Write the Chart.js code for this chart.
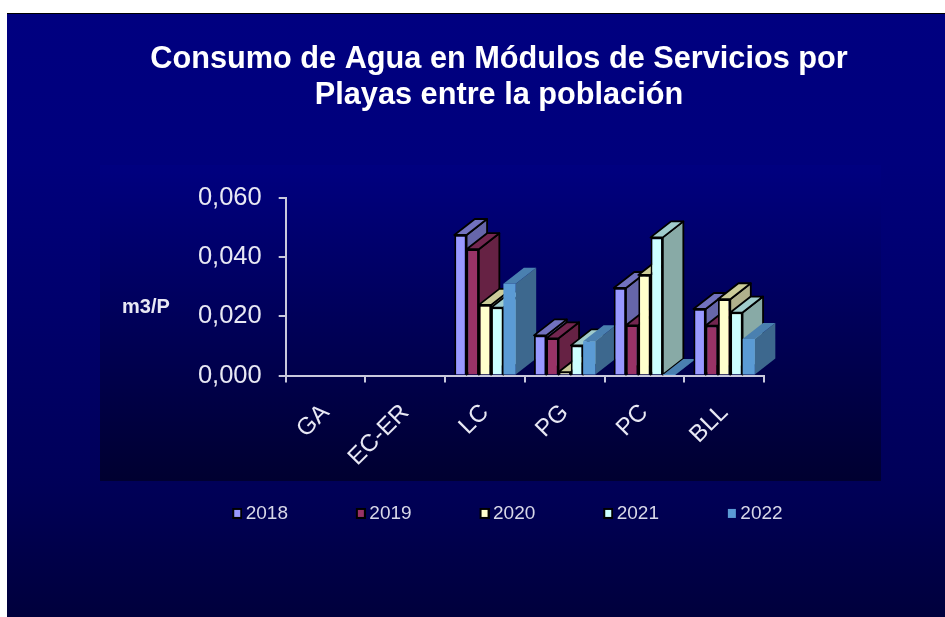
<!DOCTYPE html>
<html><head><meta charset="utf-8">
<style>html,body{margin:0;padding:0;background:#fff}#w{position:relative;width:945px;height:617px}</style>
<script src="https://cdn.jsdelivr.net/npm/chart.js@4"></script>
</head><body><div id="w"><canvas id="c" width="945" height="617"></canvas></div>
<script>
const categories = ['GA','EC-ER','LC','PG','PC','BLL'];
const s2018 = [null,null,0.0475,0.0136,0.0296,0.0225];
const s2019 = [null,null,0.0427,0.0126,0.0170,0.0169];
const s2020 = [null,null,0.0239,0.0012,0.0340,0.0258];
const s2021 = [null,null,0.0230,0.0102,0.0467,0.0213];
const s2022 = [null,null,0.0310,0.0116,0.0002,0.0124];
const yTicks = [0,0.02,0.04,0.06];
const titleLines = ['Consumo de Agua en Módulos de Servicios por','Playas entre la población'];
const yLabel = 'm3/P';
const names=['2018','2019','2020','2021','2022'];

const styles = [
 {front:'#9999FF',top:'#7272BF',side:'#6666AA',edge:'#000000'},
 {front:'#993366',top:'#732650',side:'#662244',edge:'#000000'},
 {front:'#FFFFCC',top:'#CCCC99',side:'#B0B08C',edge:'#000000'},
 {front:'#CCFFFF',top:'#A0CCCC',side:'#88AAA6',edge:'#000000'},
 {front:'#5B9BD5',top:'#4A80B0',side:'#3D688E',edge:null}
];
const DX = 20.5, DY = 16;

function marker(st){
 const m=document.createElement('canvas'); m.width=21; m.height=11;
 const c=m.getContext('2d');
 if(st.edge){c.fillStyle=st.edge; c.fillRect(11,0,10,11);}
 c.fillStyle=st.front; c.fillRect(13,2,6,7);
 if(!st.edge){c.fillRect(12,1,8,9);}
 return m;
}
const markers=styles.map(marker);

const depthPlugin = {
 id:'depth',
 beforeDraw(chart){
  const c = chart.ctx;
  c.save();
  c.fillStyle='#fff'; c.fillRect(0,0,945,617);
  let g=c.createLinearGradient(0,13,0,617);
  g.addColorStop(0,'#000080'); g.addColorStop(0.25,'#00007C'); g.addColorStop(0.78,'#000058'); g.addColorStop(1,'#00003C');
  c.fillStyle=g; c.fillRect(7,13,938,604);
  c.fillStyle='#000'; c.fillRect(7,13,938,1);
  g=c.createLinearGradient(0,165,0,481);
  g.addColorStop(0,'#000080'); g.addColorStop(1,'#000030');
  c.fillStyle=g; c.fillRect(100,165,781,316);
  c.restore();
 },
 beforeDatasetsDraw(chart){
  const c = chart.ctx, n = categories.length;
  c.save();
  c.lineJoin='round';
  for(let i=0;i<n;i++){
   chart.data.datasets.forEach((ds,d)=>{
    if(ds.data[i]==null) return;
    const b = chart.getDatasetMeta(d).data[i], st = styles[d];
    const l=b.x-b.width/2, r=b.x+b.width/2, t=b.y, bt=b.base;
    c.lineWidth = 1.8; c.strokeStyle = st.edge || 'transparent';
    c.beginPath(); c.moveTo(r,t); c.lineTo(r+DX,t-DY); c.lineTo(r+DX,bt-DY); c.lineTo(r,bt); c.closePath();
    c.fillStyle=st.side; c.fill(); if(st.edge) c.stroke();
    c.beginPath(); c.moveTo(l,t); c.lineTo(l+DX,t-DY); c.lineTo(r+DX,t-DY); c.lineTo(r,t); c.closePath();
    c.fillStyle=st.top; c.fill(); if(st.edge) c.stroke();
   });
  }
  c.restore();
 },
 afterDraw(chart){
  const c=chart.ctx;
  c.save(); c.fillStyle='#E8E8F4'; c.font='bold 20px "Liberation Sans"'; c.textAlign='left'; c.textBaseline='middle';
  c.fillText(yLabel,122,307); c.restore();
 },
 afterLayout(chart){
  const t=chart.titleBlock; t.left=0; t.right=998; t.width=998;
  const l=chart.legend; l.left=164.3; l.right=945; l.width=780.7;
  const h=l.height; l.top=441; l.bottom=441+h;
  chart.scales.x.bottom=chart.scales.x.top+120;
 }
};

const series=[s2018,s2019,s2020,s2021,s2022];
new Chart(document.getElementById('c'),{
 type:'bar',
 plugins:[depthPlugin],
 data:{labels:categories,datasets:series.map((v,i)=>({
  label:names[i],data:v,backgroundColor:styles[i].front,
  borderColor:styles[i].edge||styles[i].front,borderWidth:styles[i].edge?1.8:0,
  categoryPercentage:0.77,barPercentage:1
 }))},
 options:{
  responsive:false,animation:false,
  layout:{padding:{left:100,right:181,top:0,bottom:7.6}},
  plugins:{
   tooltip:{enabled:false},
   title:{display:true,text:titleLines,color:'#FFFFFF',font:{family:'"Liberation Sans"',size:30.7,weight:'bold',lineHeight:1.173},padding:{top:42,bottom:84}},
   legend:{display:true,position:'bottom',align:'start',
    labels:{color:'#D8D8E8',font:{family:'"Liberation Sans"',size:19},boxWidth:9,boxHeight:9,padding:62.9,usePointStyle:true,
     generateLabels(chart){
      const items=Chart.defaults.plugins.legend.labels.generateLabels(chart);
      items.forEach((it,i)=>{it.pointStyle=markers[i];});
      return items;
     }}}
  },
  scales:{
   x:{stacked:false,offset:true,
    grid:{display:true,drawOnChartArea:false,drawTicks:true,tickLength:7,color:'#C8C8DC',lineWidth:2,offset:true},
    border:{display:true,color:'#C8C8DC',width:2},
    ticks:{color:'#E8E8F4',font:{family:'"Liberation Sans"',size:24},minRotation:45,maxRotation:45,autoSkip:false,padding:16},
    afterFit(s){s.height=60;}
   },
   y:{min:0,max:0.06,
    afterBuildTicks(s){s.ticks=yTicks.map(v=>({value:v}));},
    grid:{display:true,drawOnChartArea:false,drawTicks:true,tickLength:7,color:'#C8C8DC',lineWidth:2},
    border:{display:true,color:'#C8C8DC',width:2},
    ticks:{color:'#E8E8F4',font:{family:'"Liberation Sans"',size:25.5},padding:17,
     callback(v){return v.toFixed(3).replace('.',',');}},
    afterFit(s){s.width=185.7;}
   }
  }
 }
});
</script></body></html>
